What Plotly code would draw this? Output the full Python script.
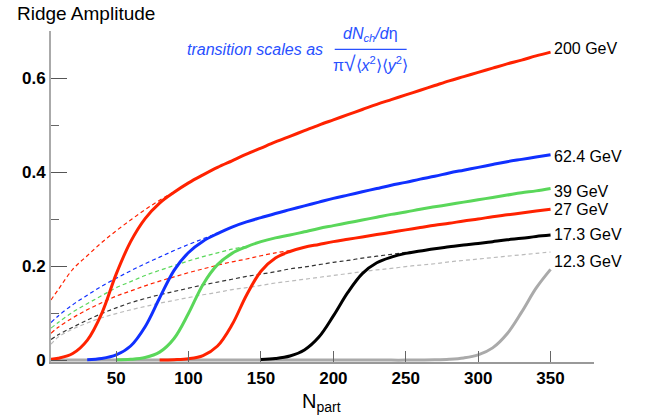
import plotly.graph_objects as go

_ = None
npart = [5, 10, 20, 30, 40, 50, 60, 70, 80, 90, 100, 110, 120, 130, 140, 150, 160, 170,
         180, 190, 200, 210, 220, 230, 240, 250, 260, 270, 280, 290, 300, 310, 320, 330, 340, 350]

# solid curves (ridge amplitude)
ridge_200 = [0.002, 0.004, 0.014, 0.042, 0.099, 0.183, 0.252, 0.301, 0.334, 0.357, 0.377, 0.394,
             0.410, 0.424, 0.438, 0.451, 0.464, 0.476, 0.488, 0.500, 0.511, 0.522, 0.533, 0.544,
             0.554, 0.564, 0.574, 0.584, 0.594, 0.603, 0.612, 0.621, 0.630, 0.638, 0.647, 0.655]
ridge_62 = [_, _, _, 0.001, 0.0035, 0.011, 0.030, 0.071, 0.132, 0.191, 0.229, 0.253,
            0.269, 0.283, 0.294, 0.303, 0.312, 0.320, 0.328, 0.336, 0.344, 0.351, 0.358, 0.365,
            0.372, 0.378, 0.385, 0.391, 0.398, 0.404, 0.410, 0.416, 0.422, 0.427, 0.432, 0.437]
ridge_39 = [_, _, _, _, _, 0.0006, 0.0017, 0.0055, 0.017, 0.046, 0.0996, 0.161,
            0.203, 0.227, 0.241, 0.252, 0.260, 0.266, 0.273, 0.280, 0.286, 0.292, 0.298, 0.304,
            0.310, 0.315, 0.321, 0.326, 0.331, 0.336, 0.341, 0.346, 0.351, 0.356, 0.360, 0.365]
ridge_27 = [_, _, _, _, _, _, _, _, 0.0003, 0.001, 0.003, 0.0098,
            0.030, 0.075, 0.138, 0.189, 0.217, 0.231, 0.240, 0.246, 0.252, 0.257, 0.262, 0.267,
            0.272, 0.277, 0.282, 0.287, 0.291, 0.296, 0.300, 0.305, 0.309, 0.313, 0.317, 0.321]
ridge_17 = [_, _, _, _, _, _, _, _, _, _, _, _,
            _, _, _, 0.0013, 0.0034, 0.0087, 0.0216, 0.049, 0.094, 0.144, 0.184, 0.207,
            0.219, 0.227, 0.232, 0.237, 0.241, 0.245, 0.248, 0.252, 0.256, 0.259, 0.263, 0.266]
ridge_12 = [0, 0, 0, 0, 0, 0, 0, 0, 0, 0, 0, 0,
            0, 0, 0, 0, 0, 0, 0, 0, 0, 0, 0, 0,
            0, 0, 0.0003, 0.0007, 0.0018, 0.0046, 0.011, 0.026, 0.056, 0.102, 0.153, 0.193]

# dashed curves (asymptotic scaling)
base_200 = [0.128, 0.150, 0.193, 0.222, 0.250, 0.275, 0.298, 0.320, 0.340, 0.358, 0.377]
base_62 = [0.080, 0.094, 0.118, 0.138, 0.157, 0.174, 0.190, 0.205, 0.219, 0.233, 0.246, 0.258, 0.270]
base_39 = [0.068, 0.080, 0.102, 0.120, 0.137, 0.154, 0.167, 0.180, 0.191, 0.201, 0.211, 0.220,
           0.228, 0.236, 0.242]
base_27 = [0.057, 0.070, 0.090, 0.107, 0.122, 0.136, 0.147, 0.158, 0.168, 0.177, 0.186, 0.194,
           0.202, 0.209, 0.215, 0.222, 0.228, 0.233]
base_17 = [0.044, 0.054, 0.070, 0.085, 0.099, 0.111, 0.122, 0.131, 0.139, 0.146, 0.153, 0.160,
           0.166, 0.172, 0.178, 0.183, 0.188, 0.194, 0.198, 0.203, 0.208, 0.212, 0.217, 0.221,
           0.225, 0.229, 0.232]
base_12 = [0.034, 0.049, 0.066, 0.079, 0.090, 0.099, 0.107, 0.114, 0.121, 0.127, 0.133, 0.139,
           0.144, 0.150, 0.154, 0.159, 0.164, 0.168, 0.172, 0.176, 0.180, 0.184, 0.188, 0.192,
           0.195, 0.199, 0.202, 0.205, 0.209, 0.212, 0.215, 0.218, 0.221, 0.224, 0.227, 0.230]

energies = ["200 GeV", "62.4 GeV", "39 GeV", "27 GeV", "17.3 GeV", "12.3 GeV"]
label_pos = [0.9477, 0.6202, 0.5166, 0.4622, 0.3837, 0.3030]  # paper y of energy labels

RED, BLUE, GREEN, BLACK, GRAY = "#ff2200", "#1030ff", "#5ad75a", "#000000", "#aaaaaa"

fig = go.Figure()

def line(y, color, width, dash=None):
    fig.add_trace(go.Scatter(x=npart[:len(y)], y=y, mode="lines",
                             line=dict(color=color, width=width, dash=dash, shape="spline", smoothing=1.0),
                             hoverinfo="skip"))

# gray solid at bottom
line(ridge_12, GRAY, 3)
# dashed
DASH = "4px,3px"
line(base_12, "#bbbbbb", 1.2, DASH)
line(base_17, "#333333", 1.2, DASH)
line(base_27, RED, 1.2, DASH)
line(base_39, GREEN, 1.2, DASH)
line(base_62, BLUE, 1.2, DASH)
line(base_200, RED, 1.2, DASH)
# solids
line(ridge_200, RED, 3)
line(ridge_62, BLUE, 3)
line(ridge_39, GREEN, 3)
line(ridge_27, RED, 3)
line(ridge_17, BLACK, 3)

FONT = "Liberation Sans, Arial, Helvetica, sans-serif"

fig.update_layout(
    width=650, height=419,
    margin=dict(l=51, r=56, t=31, b=57),
    plot_bgcolor="white", paper_bgcolor="white",
    showlegend=False,
    font=dict(family=FONT, color="black"),
)
fig.update_xaxes(
    range=[5, 380], showgrid=False, zeroline=False,
    showline=True, linecolor="#999999", linewidth=1.5,
    ticks="inside", ticklen=11, tickwidth=1.2, tickcolor="#666666",
    tickvals=[50, 100, 150, 200, 250, 300, 350],
    tickfont=dict(size=17, family=FONT, weight="bold", color="black"),
)
fig.update_yaxes(
    range=[-0.004, 0.70], showgrid=False, zeroline=False,
    showline=True, linecolor="#aaaaaa", linewidth=2,
    ticks="inside", ticklen=16, tickwidth=1.2, tickcolor="#555555",
    tickvals=[0, 0.2, 0.4, 0.6], ticktext=["0", "0.2", "0.4", "0.6"],
    tickfont=dict(size=17, family=FONT, weight="bold", color="black"),
    minor=dict(tickvals=[0.1, 0.3, 0.5], ticks="inside", ticklen=8, tickwidth=1.2, tickcolor="#666666"),
)

ann = []
ann.append(dict(text="Ridge Amplitude", xref="paper", yref="paper", x=-0.0663, y=1.0906,
                xanchor="left", yanchor="top", showarrow=False, font=dict(size=19, family=FONT)))
ann.append(dict(text="N<sub>part</sub>", xref="paper", yref="paper", x=0.499, y=-0.0785,
                xanchor="center", yanchor="top", showarrow=False, font=dict(size=20, family=FONT)))
for name, yp in zip(energies, label_pos):
    ann.append(dict(text=name, xref="paper", yref="paper", x=0.922, y=yp,
                    xanchor="left", yanchor="middle", showarrow=False, font=dict(size=16, family=FONT)))
TBLUE = "#2850ff"
ann.append(dict(text="<i>transition scales as</i>", xref="paper", yref="paper", x=0.5046, y=0.9426,
                xanchor="right", yanchor="middle", showarrow=False, font=dict(size=16, family=FONT, color=TBLUE)))
ann.append(dict(text="<i>dN<sub>ch</sub>/d</i>η", xref="paper", yref="paper", x=0.589, y=0.9532,
                xanchor="center", yanchor="bottom", showarrow=False, font=dict(size=16, family=FONT, color=TBLUE)))
ann.append(dict(text="π<span style=\"font-size:21px\">√</span>⟨<i>x</i><sup>2</sup>⟩⟨<i>y</i><sup>2</sup>⟩",
                xref="paper", yref="paper", x=0.589, y=0.9425,
                xanchor="center", yanchor="top", showarrow=False, font=dict(size=16, family=FONT, color=TBLUE)))
fig.update_layout(annotations=ann)
fig.add_shape(type="line", xref="paper", yref="paper", x0=0.5225, x1=0.6550, y0=0.9447, y1=0.9447,
              line=dict(color=TBLUE, width=1.2))

fig.write_html("out.html", config={"displayModeBar": False},
               post_script="document.body.style.margin='0';document.body.style.overflow='hidden';")
